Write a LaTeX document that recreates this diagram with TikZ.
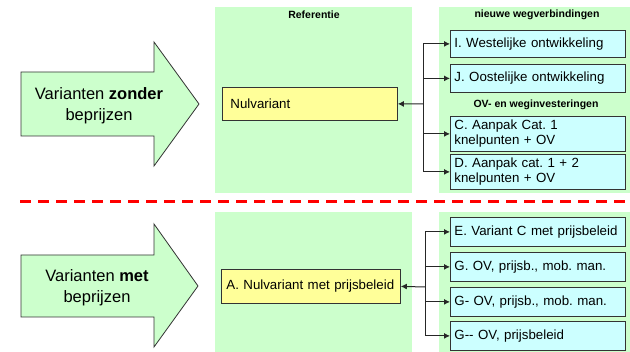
\documentclass[tikz,border=0pt]{standalone}
\usepackage{fontspec}
\setmainfont{Liberation Sans}
\usetikzlibrary{arrows.meta}

\definecolor{paneelgroen}{HTML}{CCFFCC}
\definecolor{vakblauw}{HTML}{CCFFFF}
\definecolor{vakgeel}{HTML}{FFFF99}

\tikzset{
  paneel/.style={fill=paneelgroen},
  kop/.style={font=\fontsize{10.5}{12}\selectfont\bfseries},
  blauwvak/.style={draw=black!80, fill=vakblauw, anchor=north west, line width=0.8pt,
    inner xsep=4pt, inner ysep=0pt, text width=167pt, align=left,
    font=\fontsize{13.3}{15}\selectfont\frenchspacing},
  geelvak/.style={draw=black!80, fill=vakgeel, anchor=north west, line width=0.8pt,
    inner ysep=0pt, align=left, font=\fontsize{13.3}{15}\selectfont\frenchspacing},
  grotepijl/.style={draw=black!80, fill=paneelgroen, line width=0.8pt, line join=miter},
  pijltekst/.style={align=center, font=\fontsize{16.5}{21}\selectfont},
  verbinding/.style={draw=black!85, line width=1pt, -{Latex[length=6pt,width=6pt]}},
  scheiding/.style={draw=red, line width=3pt, dash pattern=on 11pt off 7pt}
}

\begin{document}
\begin{tikzpicture}[x=1pt,y=-1pt]
  \useasboundingbox (0,0) rectangle (630,352);

  % groene panelen
  \fill[paneel] (215,7) rectangle (412,193);   % referentie boven
  \fill[paneel] (439,7) rectangle (630,193);   % varianten boven
  \fill[paneel] (215,212) rectangle (412,352); % referentie onder
  \fill[paneel] (439,212) rectangle (630,352); % varianten onder

  % koppen
  \node[kop] (kopref) at (314,15) {Referentie};
  \node[kop] (kopweg) at (537,15) {nieuwe wegverbindingen};
  \node[kop] (kopov) at (536,105) {OV- en weginvesteringen};

  % scheidingslijn
  \draw[scheiding] (20,202) -- (630,202);

  % grote pijlen
  \draw[grotepijl] (21,72) -- (154,72) -- (154,42) -- (199,104) -- (154,166) -- (154,136) -- (21,136) -- cycle;
  \node[pijltekst] (zonder) at (99,106) {Varianten \textbf{zonder}\\beprijzen};
  \draw[grotepijl] (21,255) -- (154,255) -- (154,224) -- (198,286) -- (154,347) -- (154,317) -- (21,317) -- cycle;
  \node[pijltekst] (met) at (97,288) {Varianten \textbf{met}\\beprijzen};

  % referentie
  \node[geelvak, inner xsep=8pt, text width=159pt, minimum height=33pt] (nulvar) at (222,87) {Nulvariant};
  \node[geelvak, inner xsep=5pt, text width=169pt, minimum height=34pt] (nulprijs) at (221,269) {A. Nulvariant met prijsbeleid};

  % varianten zonder beprijzen
  \node[blauwvak, minimum height=27pt] (west) at (450,30) {I. Westelijke ontwikkeling};
  \node[blauwvak, minimum height=28pt] (oost) at (450,64) {J. Oostelijke ontwikkeling};
  \node[blauwvak, minimum height=35pt] (aanpakc) at (450,116) {C. Aanpak Cat. 1\\knelpunten + OV};
  \node[blauwvak, minimum height=35pt] (aanpakd) at (450,154) {D. Aanpak cat. 1 + 2\\knelpunten + OV};

  % varianten met beprijzen
  \node[blauwvak, minimum height=29pt] (varc) at (450,217) {E. Variant C met prijsbeleid};
  \node[blauwvak, minimum height=29pt] (ovmob) at (450,252) {G. OV, prijsb., mob. man.};
  \node[blauwvak, minimum height=29pt] (ovmobb) at (450,287) {G- OV, prijsb., mob. man.};
  \node[blauwvak, minimum height=29pt] (ovprijs) at (450,321) {G-{}- OV, prijsbeleid};

  % verbindingen boven
  \coordinate (knoopboven) at (423,104);
  \draw[verbinding] (knoopboven) -- (nulvar.east);
  \foreach \doel in {west,oost,aanpakc,aanpakd}
    \draw[verbinding] (knoopboven) |- (\doel.west);

  % verbindingen onder
  \coordinate (knooponder) at (425,287);
  \draw[verbinding] (knooponder) -- (nulprijs.east);
  \foreach \doel in {varc,ovmob,ovmobb,ovprijs}
    \draw[verbinding] (knooponder) |- (\doel.west);
\end{tikzpicture}
\end{document}
